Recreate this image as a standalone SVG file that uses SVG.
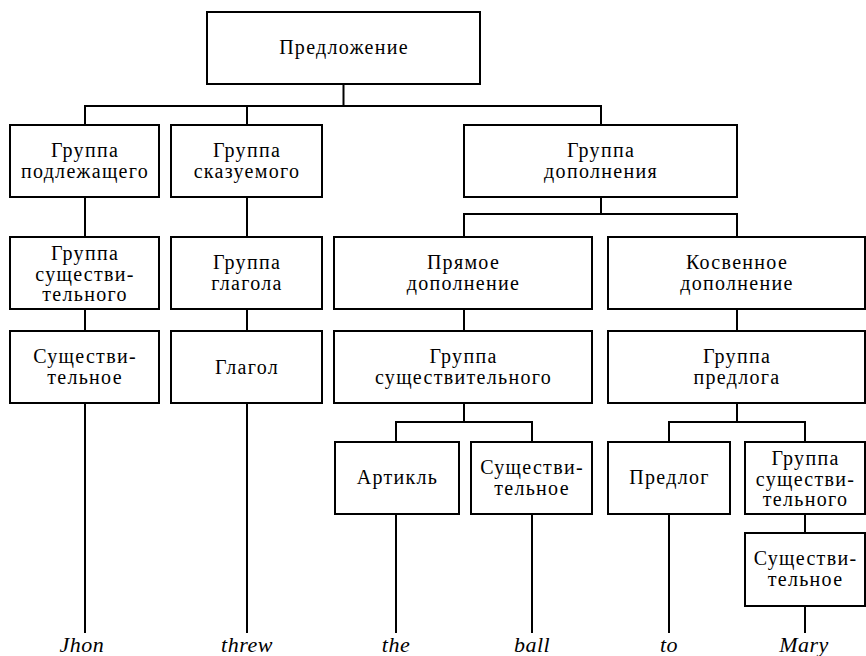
<svg xmlns="http://www.w3.org/2000/svg" width="866" height="656" viewBox="0 0 866 656" font-family="'Liberation Serif', 'Times New Roman', serif">
<style>
rect{fill:#fff;stroke:#000;stroke-width:2}
.c line,.c path{stroke:#000;stroke-width:2;fill:none}
text{font-family:'Liberation Serif','Times New Roman',serif;font-size:20px;letter-spacing:1.3px;fill:#000;text-anchor:middle}
.w{font-style:italic;font-size:22px;letter-spacing:0.5px}
</style>
<rect x="0" y="0" width="866" height="656" style="stroke:none"/>
<g class="c" id="connectors">
<line x1="343.5" y1="84" x2="343.5" y2="106"/>
<path d="M85 125V106H601V125"/>
<line x1="247" y1="106" x2="247" y2="125"/>
<line x1="85" y1="197" x2="85" y2="237"/>
<line x1="247" y1="197" x2="247" y2="237"/>
<line x1="601" y1="197" x2="601" y2="214"/>
<path d="M464 237V214H737V237"/>
<line x1="85" y1="309" x2="85" y2="331"/>
<line x1="247" y1="309" x2="247" y2="331"/>
<line x1="464" y1="309" x2="464" y2="331"/>
<line x1="737" y1="309" x2="737" y2="331"/>
<line x1="85" y1="403" x2="85" y2="633"/>
<line x1="247" y1="403" x2="247" y2="633"/>
<line x1="464" y1="403" x2="464" y2="422"/>
<path d="M396 442V422H532V442"/>
<line x1="737" y1="403" x2="737" y2="422"/>
<path d="M669 442V422H805V442"/>
<line x1="396" y1="514" x2="396" y2="633"/>
<line x1="532" y1="514" x2="532" y2="633"/>
<line x1="669" y1="514" x2="669" y2="633"/>
<line x1="805" y1="514" x2="805" y2="533"/>
<line x1="805" y1="606" x2="805" y2="633"/>
</g>
<g id="n-sentence"><rect x="207" y="12" width="273" height="72"/><text x="344" y="54">Предложение</text></g>
<g id="n-subj"><rect x="10" y="125" width="149" height="72"/><text x="85" y="157">Группа<tspan x="85" dy="21">подлежащего</tspan></text></g>
<g id="n-pred"><rect x="171" y="125" width="151" height="72"/><text x="247" y="157">Группа<tspan x="247" dy="21">сказуемого</tspan></text></g>
<g id="n-compl"><rect x="464" y="125" width="273" height="72"/><text x="601" y="157">Группа<tspan x="601" dy="21">дополнения</tspan></text></g>
<g id="n-np1"><rect x="10" y="237" width="149" height="72"/><text x="85" y="260">Группа<tspan x="85" dy="20.5">существи-</tspan><tspan x="85" dy="20.5">тельного</tspan></text></g>
<g id="n-vp"><rect x="171" y="237" width="151" height="72"/><text x="247" y="269">Группа<tspan x="247" dy="21">глагола</tspan></text></g>
<g id="n-direct"><rect x="334" y="237" width="258" height="72"/><text x="463.5" y="269">Прямое<tspan x="463.5" dy="21">дополнение</tspan></text></g>
<g id="n-indirect"><rect x="608" y="237" width="257" height="72"/><text x="737" y="269">Косвенное<tspan x="737" dy="21">дополнение</tspan></text></g>
<g id="n-noun1"><rect x="10" y="331" width="149" height="72"/><text x="85" y="363">Существи-<tspan x="85" dy="21">тельное</tspan></text></g>
<g id="n-verb"><rect x="171" y="331" width="151" height="72"/><text x="247" y="374">Глагол</text></g>
<g id="n-np2"><rect x="334" y="331" width="258" height="72"/><text x="463.5" y="363">Группа<tspan x="463.5" dy="21">существительного</tspan></text></g>
<g id="n-pp"><rect x="608" y="331" width="257" height="72"/><text x="737" y="363">Группа<tspan x="737" dy="21">предлога</tspan></text></g>
<g id="n-art"><rect x="335" y="442" width="124" height="72"/><text x="397.5" y="484">Артикль</text></g>
<g id="n-noun2"><rect x="471" y="442" width="121" height="72"/><text x="532" y="474">Существи-<tspan x="532" dy="21">тельное</tspan></text></g>
<g id="n-prep"><rect x="608" y="442" width="122" height="72"/><text x="669.5" y="484">Предлог</text></g>
<g id="n-np3"><rect x="745" y="442" width="120" height="72"/><text x="805.5" y="465">Группа<tspan x="805.5" dy="20.5">существи-</tspan><tspan x="805.5" dy="20.5">тельного</tspan></text></g>
<g id="n-noun3"><rect x="745" y="533" width="120" height="73"/><text x="805.5" y="565">Существи-<tspan x="805.5" dy="21">тельное</tspan></text></g>
<g id="words">
<text class="w" x="82" y="652">Jhon</text>
<text class="w" x="247" y="652">threw</text>
<text class="w" x="396" y="652">the</text>
<text class="w" x="532" y="652">ball</text>
<text class="w" x="669" y="652">to</text>
<text class="w" x="804" y="652">Mary</text>
</g>
</svg>
